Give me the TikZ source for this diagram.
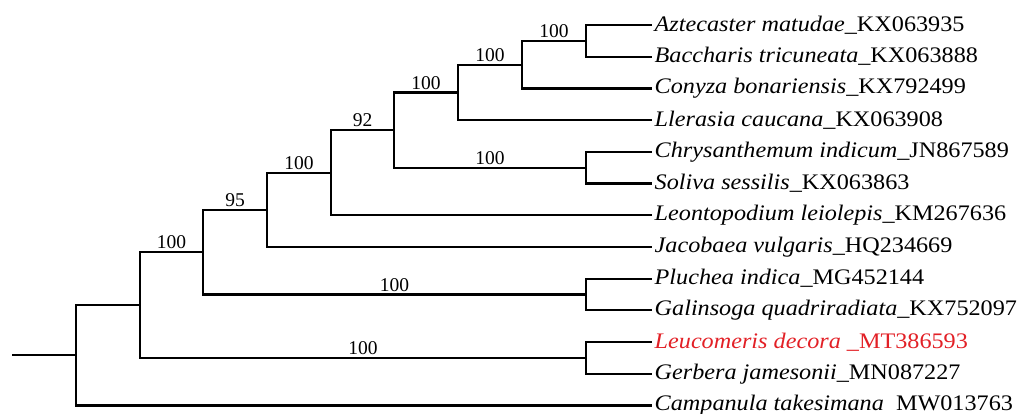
\documentclass[tikz,border=0pt]{standalone}
\usepackage{fontspec}
\usepackage{xcolor}
\usepackage{tikz}
\usetikzlibrary{positioning}
\newfontfamily\taxfont{Liberation Serif}[FakeStretch=1.09]
\newfontfamily\bootfont{Liberation Serif}
\definecolor{hilite}{RGB}{226,32,38}

\begin{document}
\begin{tikzpicture}[
  x=1pt, y=-1pt,
  branch/.style={line width=2.2pt, line join=miter},
  boot/.style={above, inner sep=2pt, font=\bootfont\fontsize{19.5}{20}\selectfont},
  taxon/.style={anchor=west, inner sep=2.5pt, font=\taxfont\fontsize{22.2}{24}\selectfont},
]
\useasboundingbox (0,0) rectangle (1023,413);

% ================= 叶端坐标 =================
\coordinate (azt) at (652,25.0);
\coordinate (bac) at (652,56.7);
\coordinate (con) at (652,88.4);
\coordinate (ller) at (652,120.1);
\coordinate (chr) at (652,151.8);
\coordinate (sol) at (652,183.5);
\coordinate (leon) at (652,215.2);
\coordinate (jac) at (652,246.9);
\coordinate (plu) at (652,278.6);
\coordinate (gal) at (652,310.3);
\coordinate (leu) at (652,342.0);
\coordinate (ger) at (652,373.7);
\coordinate (cam) at (652,405.4);

% ================= 内部节点 =================
\coordinate (n1) at (586,40.85);
\coordinate (n2) at (522,64.6);
\coordinate (n3) at (458,92.4);
\coordinate (n4) at (586,167.65);
\coordinate (n5) at (394,130.0);
\coordinate (n6) at (331,172.6);
\coordinate (n7) at (267,209.8);
\coordinate (n8) at (586,294.45);
\coordinate (n9) at (203,252.1);
\coordinate (n10) at (586,357.85);
\coordinate (n11) at (140,305.0);
\coordinate (root) at (76,355.2);
\coordinate (stub) at (12,355.2);

% ================= 物种标签 =================
\node[taxon] (t_azt) at (azt) {\textit{Aztecaster matudae}\_KX063935};
\node[taxon] (t_bac) at (bac) {\textit{Baccharis tricuneata}\_KX063888};
\node[taxon] (t_con) at (con) {\textit{Conyza bonariensis}\_KX792499};
\node[taxon] (t_ller) at (ller) {\textit{Llerasia caucana}\_KX063908};
\node[taxon] (t_chr) at (chr) {\textit{Chrysanthemum indicum}\_JN867589};
\node[taxon] (t_sol) at (sol) {\textit{Soliva sessilis}\_KX063863};
\node[taxon] (t_leon) at (leon) {\textit{Leontopodium leiolepis}\_KM267636};
\node[taxon] (t_jac) at (jac) {\textit{Jacobaea vulgaris}\_HQ234669};
\node[taxon] (t_plu) at (plu) {\textit{Pluchea indica}\_MG452144};
\node[taxon] (t_gal) at (gal) {\textit{Galinsoga quadriradiata}\_KX752097};
\node[taxon, text=hilite] (t_leu) at (leu) {\textit{Leucomeris decora} \_MT386593};
\node[taxon] (t_ger) at (ger) {\textit{Gerbera jamesonii}\_MN087227};
\node[taxon] (t_cam) at (cam) {\textit{Campanula takesimana}\phantom{\_}MW013763};

% ================= 分支 =================
% 叶分支
\draw[branch] (n1) |- (azt);
\draw[branch] (n1) |- (bac);
\draw[branch] (n2) |- (con);
\draw[branch] (n3) |- (ller);
\draw[branch] (n4) |- (chr);
\draw[branch] (n4) |- (sol);
\draw[branch] (n6) |- (leon);
\draw[branch] (n7) |- (jac);
\draw[branch] (n8) |- (plu);
\draw[branch] (n8) |- (gal);
\draw[branch] (n10) |- (leu);
\draw[branch] (n10) |- (ger);
\draw[branch] (root) |- (cam);

% 内部分支 + 支持率
\draw[branch] (n2) |- (n1) node[pos=0.75, boot] {100};
\draw[branch] (n3) |- (n2) node[pos=0.75, boot] {100};
\draw[branch] (n5) |- (n3) node[pos=0.75, boot] {100};
\draw[branch] (n5) |- (n4) node[pos=0.75, boot] {100};
\draw[branch] (n6) |- (n5) node[pos=0.75, boot] {92};
\draw[branch] (n7) |- (n6) node[pos=0.75, boot] {100};
\draw[branch] (n9) |- (n7) node[pos=0.75, boot] {95};
\draw[branch] (n9) |- (n8) node[pos=0.75, boot] {100};
\draw[branch] (n11) |- (n9) node[pos=0.75, boot] {100};
\draw[branch] (n11) |- (n10) node[pos=0.75, boot] {100};
\draw[branch] (root) |- (n11);

% 根
\draw[branch] (stub) -- (root);

\end{tikzpicture}
\end{document}
